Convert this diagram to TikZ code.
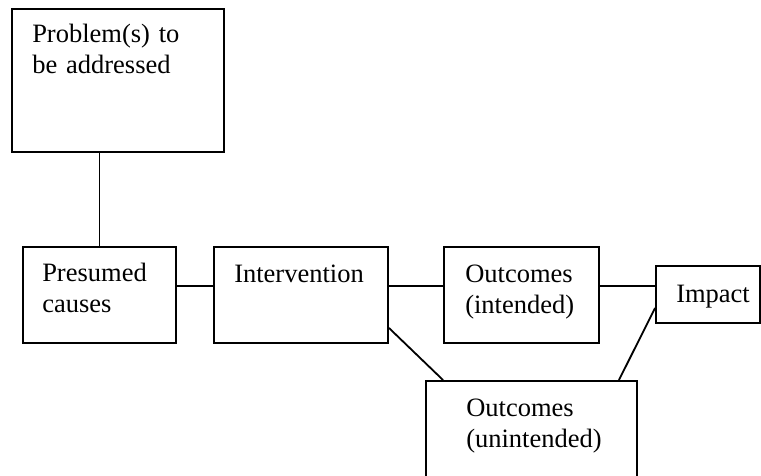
\documentclass[tikz,border=0pt]{standalone}
\usepackage{fontspec}
\setmainfont{Liberation Serif}
\begin{document}
\begin{tikzpicture}[x=1pt,y=-1pt]
	\tikzstyle{box}=[rectangle,draw=black,line width=1.9pt,inner sep=0pt]
	\tikzstyle{boxtext}=[anchor=base west,inner sep=0pt,text width=210pt,align=left,font=\fontsize{26.5}{31}\selectfont]
	\tikzstyle{link}=[draw,line width=1.8pt]
	\clip (0,0) rectangle (761,475);
	\begin{scope}
		\node [box,minimum width=212pt,minimum height=143pt] (prob) at (118,80.5) {};
		\node [box,minimum width=153pt,minimum height=96pt] (pres) at (99.5,295) {};
		\node [box,minimum width=174pt,minimum height=96pt] (interv) at (301,295) {};
		\node [box,minimum width=155pt,minimum height=96pt] (outint) at (521.5,295) {};
		\node [box,minimum width=104pt,minimum height=57pt] (impact) at (708,294.5) {};
		\node [box,minimum width=211pt,minimum height=130pt] (outun) at (531.5,446) {};
		\node [boxtext] (probtext) at ([shift={(21,34)}]prob.north west) {Problem(s) to\\be addressed};
		\node [boxtext] (prestext) at ([shift={(20,35)}]pres.north west) {Presumed\\causes};
		\node [boxtext] (intervtext) at ([shift={(21,36)}]interv.north west) {Intervention};
		\node [boxtext] (outinttext) at ([shift={(22,36)}]outint.north west) {Outcomes\\(intended)};
		\node [boxtext] (impacttext) at ([shift={(21,37)}]impact.north west) {Impact};
		\node [boxtext] (outuntext) at ([shift={(41,36)}]outun.north west) {Outcomes\\(unintended)};
		\path[link] (pres.north) -- (pres.north |- prob.south);
		\path[link] ([yshift=9pt]pres.east) -- ([yshift=9pt]interv.west);
		\path[link] ([yshift=9pt]interv.east) -- ([yshift=9pt]outint.west);
		\path[link] ([yshift=9pt]outint.east) -- ([yshift=9pt]outint.east -| impact.west);
		\path[link] ([yshift=16pt]interv.south east) -- ([xshift=18pt]outun.north west);
		\path[link] ([yshift=16pt]impact.south west) -- ([xshift=-19pt]outun.north east);
	\end{scope}
\end{tikzpicture}
\end{document}
